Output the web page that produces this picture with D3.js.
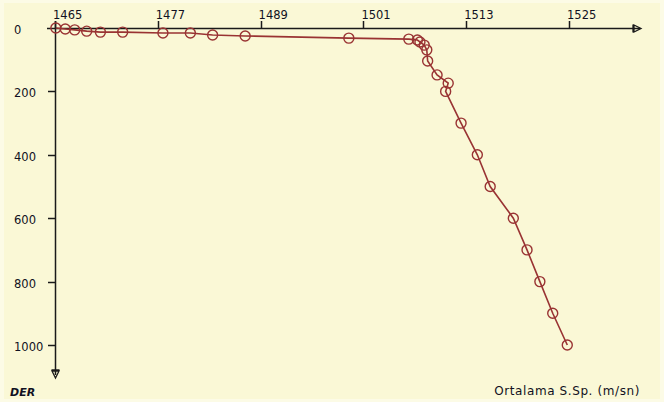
<!DOCTYPE html>
<html>
<head>
<meta charset="utf-8">
<script src="https://cdn.jsdelivr.net/npm/d3@7"></script>
<style>
  body { margin: 0; background: #fcfbe6; }
  svg { display: block; }
  text { font-family: "DejaVu Sans", Verdana, sans-serif; fill: #111122; }
</style>
</head>
<body>
<svg id="chart" width="664" height="402"></svg>
<script>
// sound speed (m/s) vs depth (m)
var speed = [1465.1, 1466.2, 1467.3, 1468.7, 1470.3, 1472.9, 1477.6, 1480.8, 1483.4, 1487.2,
    1499.3, 1506.3, 1507.3, 1507.6, 1508.1, 1508.4, 1508.5, 1509.6, 1510.9, 1510.6,
    1512.4, 1514.3, 1515.8, 1518.5, 1520.1, 1521.6, 1523.1, 1524.8];
var depth = [0, 3, 6, 10, 13, 13, 16, 16, 22, 25,
    32, 35, 38, 44, 54, 69, 104, 148, 174, 200,
    300, 400, 500, 600, 700, 800, 900, 1000];
var xTicks = [1465, 1477, 1489, 1501, 1513, 1525];
var yTicks = [0, 200, 400, 600, 800, 1000];

var points = speed.map(function(s, i) {
    return { s: s, d: depth[i] };
});

var svg = d3.select("#chart");

svg.append("rect")
    .attr("x", 4).attr("y", 3)
    .attr("width", 656).attr("height", 396)
    .attr("fill", "#faf8d6");

var x = d3.scaleLinear().domain([1465, 1525]).range([55, 569]);
var y = d3.scaleLinear().domain([0, 1000]).range([28, 345]);

var axisColor = "#1a1a1a";

// x axis line + ticks (ticks point up)
svg.append("line")
    .attr("x1", 47).attr("x2", 640)
    .attr("y1", 28.5).attr("y2", 28.5)
    .attr("stroke", axisColor).attr("stroke-width", 1.5);

svg.selectAll(".xtick")
    .data(xTicks)
    .enter().append("line")
    .attr("class", "xtick")
    .attr("x1", function(d) { return Math.round(x(d)) + 0.5; })
    .attr("x2", function(d) { return Math.round(x(d)) + 0.5; })
    .attr("y1", 21).attr("y2", 28)
    .attr("stroke", axisColor).attr("stroke-width", 1.5);

svg.selectAll(".xlab")
    .data(xTicks)
    .enter().append("text")
    .attr("class", "xlab")
    .attr("x", function(d) { return x(d) - 2; })
    .attr("y", 19)
    .style("font-size", "11.5px")
    .text(function(d) { return d; });

// arrow on x axis
svg.append("path")
    .attr("d", "M633,24.5 L633,32.5 M634,25 L641,28.5 L634,32 Z")
    .attr("fill", "none").attr("stroke", axisColor).attr("stroke-width", 1.3);

// y axis line + ticks (ticks point left)
svg.append("line")
    .attr("x1", 55.5).attr("x2", 55.5)
    .attr("y1", 21).attr("y2", 375)
    .attr("stroke", axisColor).attr("stroke-width", 1.5);

svg.selectAll(".ytick")
    .data(yTicks.slice(1))
    .enter().append("line")
    .attr("class", "ytick")
    .attr("x1", 48).attr("x2", 55)
    .attr("y1", function(d) { return Math.round(y(d)) + 0.5; })
    .attr("y2", function(d) { return Math.round(y(d)) + 0.5; })
    .attr("stroke", axisColor).attr("stroke-width", 1.5);

svg.selectAll(".ylab")
    .data(yTicks)
    .enter().append("text")
    .attr("class", "ylab")
    .attr("x", 14)
    .attr("y", function(d) { return y(d) + 6; })
    .style("font-size", "11.5px")
    .text(function(d) { return d; });

// arrow on y axis
svg.append("path")
    .attr("d", "M51.5,370 L59.5,370 M52,371 L55.5,378 L59,371 Z")
    .attr("fill", "none").attr("stroke", axisColor).attr("stroke-width", 1.3);

// profile line
var line = d3.line()
    .x(function(d) { return x(d.s); })
    .y(function(d) { return y(d.d); });

svg.append("path")
    .datum(points)
    .attr("d", line)
    .attr("fill", "none")
    .attr("stroke", "#993333")
    .attr("stroke-width", 1.6);

svg.selectAll(".pt")
    .data(points)
    .enter().append("circle")
    .attr("class", "pt")
    .attr("cx", function(d) { return x(d.s); })
    .attr("cy", function(d) { return y(d.d); })
    .attr("r", 5)
    .attr("fill", "none")
    .attr("stroke", "#993333")
    .attr("stroke-width", 1.4);

// axis titles
svg.append("text")
    .attr("x", 10).attr("y", 396)
    .style("font-size", "11px")
    .style("font-style", "italic")
    .style("font-weight", "bold")
    .text("DER");

svg.append("text")
    .attr("x", 640).attr("y", 395)
    .attr("text-anchor", "end")
    .style("font-size", "12px")
    .style("letter-spacing", "0.6px")
    .text("Ortalama S.Sp. (m/sn)");
</script>
</body>
</html>
